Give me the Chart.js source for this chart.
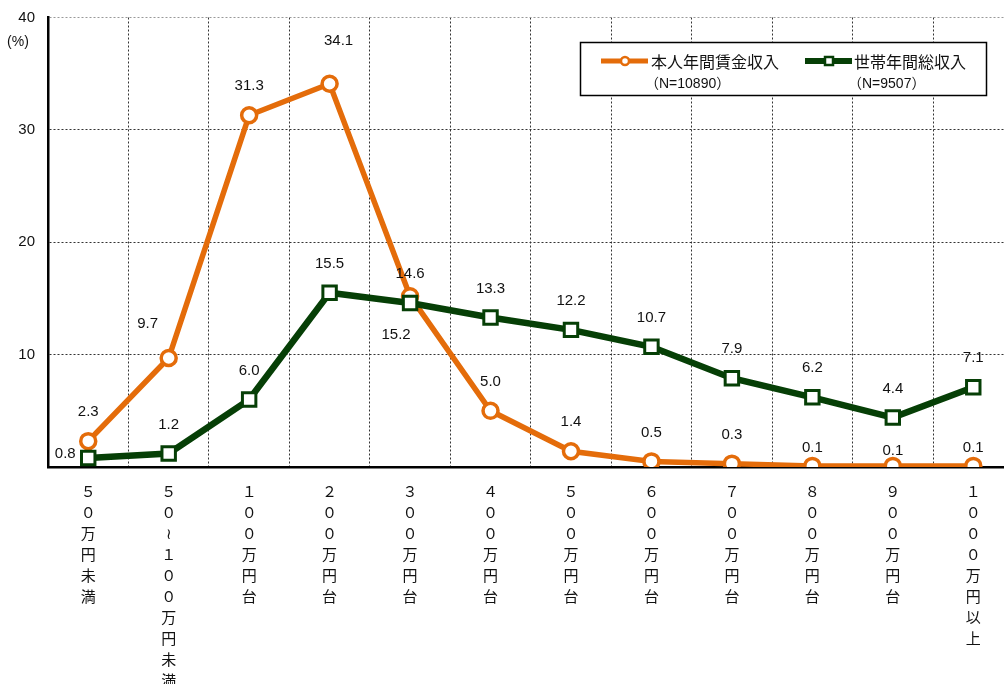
<!DOCTYPE html>
<html>
<head>
<meta charset="utf-8">
<script src="https://cdn.jsdelivr.net/npm/chart.js@4/dist/chart.umd.min.js"></script>
<style>
  html, body { margin: 0; padding: 0; background: #fff; overflow: hidden; }
  #wrap { width: 1004px; height: 684px; overflow: hidden; position: relative; }
  canvas { display: block; }
</style>
</head>
<body>
<div id="wrap"><canvas id="income" width="1026" height="684" style="width:1026px;height:684px"></canvas></div>
<script>
var categories = ['５０万円未満', '５０≀１００万円未満', '１００万円台', '２００万円台', '３００万円台', '４００万円台',
    '５００万円台', '６００万円台', '７００万円台', '８００万円台', '９００万円台', '１０００万円以上'];
var wageValues = [2.3, 9.7, 31.3, 34.1, 15.2, 5.0, 1.4, 0.5, 0.3, 0.1, 0.1, 0.1];
var householdValues = [0.8, 1.2, 6.0, 15.5, 14.6, 13.3, 12.2, 10.7, 7.9, 6.2, 4.4, 7.1];
var yTicks = [0, 10, 20, 30, 40];
var seriesNames = ['本人年間賃金収入', '世帯年間総収入'];
var seriesCounts = ['（N=10890）', '（N=9507）'];

var ORANGE = '#E46C0A';
var GREEN = '#063F06';
var FONT = '"Liberation Sans", "Noto Sans CJK JP", sans-serif';

// labels sit above their point unless moved here: [dx, dy] from the point
var labelShift = {
    0: {1: [-21, -34], 3: [9, -43], 4: [-14, 39], 9: [0, -18], 10: [0, -15], 11: [0, -18]},
    1: {0: [-23, -4]}
};

var valueLabels = {
    id: 'valueLabels',
    afterDatasetsDraw: function (chart) {
        var ctx = chart.ctx;
        ctx.save();
        ctx.font = '15px ' + FONT;
        ctx.fillStyle = '#111';
        ctx.textAlign = 'center';
        ctx.textBaseline = 'middle';
        chart.data.datasets.forEach(function (ds, di) {
            var meta = chart.getDatasetMeta(di);
            meta.data.forEach(function (pt, i) {
                var s = (labelShift[di] && labelShift[di][i]) || [0, -29];
                ctx.fillText(ds.data[i].toFixed(1), pt.x + s[0], pt.y + s[1]);
            });
        });
        ctx.restore();
    },
    afterDraw: function (chart) {
        var ctx = chart.ctx;
        ctx.save();
        // unit caption under the top tick
        ctx.font = '14px ' + FONT;
        ctx.fillStyle = '#111';
        ctx.textAlign = 'center';
        ctx.textBaseline = 'middle';
        ctx.fillText('(%)', 18, 42);

        // legend box
        ctx.fillStyle = '#fff';
        ctx.fillRect(580, 42, 406, 54);
        ctx.lineWidth = 1.5;
        ctx.strokeStyle = '#000';
        ctx.strokeRect(580.5, 42.5, 406, 53);

        var items = [
            {x: 601, color: ORANGE, shape: 'circle', textX: 651},
            {x: 805, color: GREEN, shape: 'rect', textX: 854}
        ];
        items.forEach(function (it, k) {
            ctx.strokeStyle = it.color;
            ctx.lineWidth = k === 0 ? 5 : 6;
            ctx.beginPath();
            ctx.moveTo(it.x, 61);
            ctx.lineTo(it.x + 47, 61);
            ctx.stroke();
            ctx.fillStyle = '#fff';
            ctx.lineWidth = 2.5;
            var cx = it.x + 24;
            if (it.shape === 'circle') {
                ctx.beginPath();
                ctx.arc(cx, 61, 4, 0, Math.PI * 2);
                ctx.fill();
                ctx.stroke();
            } else {
                ctx.fillRect(cx - 4, 57, 8, 8);
                ctx.strokeRect(cx - 4, 57, 8, 8);
            }
            ctx.fillStyle = '#111';
            ctx.textAlign = 'left';
            ctx.font = '16px "Noto Sans CJK JP", sans-serif';
            ctx.fillText(seriesNames[k], it.textX, 62);
            ctx.font = '14px ' + FONT;
            ctx.fillText(seriesCounts[k], it.textX - 6, 84);
        });
        ctx.restore();
    }
};

var dottedGrid = function (c) {
    return c.tick && c.tick.value === 40 ? '#999' : '#333';
};

new Chart(document.getElementById('income'), {
    type: 'line',
    data: {
        labels: categories.map(function (c) { return Array.from(c); }),
        datasets: [
            {
                label: seriesNames[0],
                data: wageValues,
                order: 1,
                borderColor: ORANGE,
                borderWidth: 5.5,
                pointStyle: 'circle',
                pointRadius: 7.5,
                pointBorderWidth: 3.5,
                pointBackgroundColor: '#fff',
                pointBorderColor: ORANGE,
                tension: 0
            },
            {
                label: seriesNames[1],
                data: householdValues,
                order: 0,
                borderColor: GREEN,
                borderWidth: 6.5,
                pointStyle: 'rect',
                pointRadius: 9.5,
                pointBorderWidth: 3,
                pointBackgroundColor: '#fff',
                pointBorderColor: GREEN,
                tension: 0
            }
        ]
    },
    options: {
        responsive: false,
        animation: false,
        layout: {padding: {top: 17.5, left: 0, right: 0, bottom: 0}},
        plugins: {
            legend: {display: false},
            tooltip: {enabled: false}
        },
        scales: {
            x: {
                offset: true,
                grid: {offset: true, color: '#333', lineWidth: 1, drawTicks: false},
                border: {color: '#000', width: 2.5, dash: [2, 2]},
                ticks: {
                    autoSkip: false,
                    maxRotation: 0,
                    padding: 14,
                    color: '#111',
                    font: {family: '"Noto Sans CJK JP", sans-serif', size: 15, lineHeight: 1.4}
                },
                afterFit: function (s) { s.height = 217; }
            },
            y: {
                min: 0,
                max: 40,
                afterBuildTicks: function (s) {
                    s.ticks = yTicks.map(function (v) { return {value: v}; });
                },
                grid: {color: dottedGrid, lineWidth: 1, drawTicks: false},
                border: {color: '#000', width: 2.5, dash: [2, 2]},
                ticks: {
                    padding: 13,
                    color: '#111',
                    font: {family: FONT, size: 15},
                    callback: function (v) { return v === 0 ? '' : v; }
                },
                afterFit: function (s) {
                    s.width = 48;
                    s.paddingTop = 0;
                    s.paddingBottom = 0;
                }
            }
        }
    },
    plugins: [valueLabels]
});
</script>
</body>
</html>
